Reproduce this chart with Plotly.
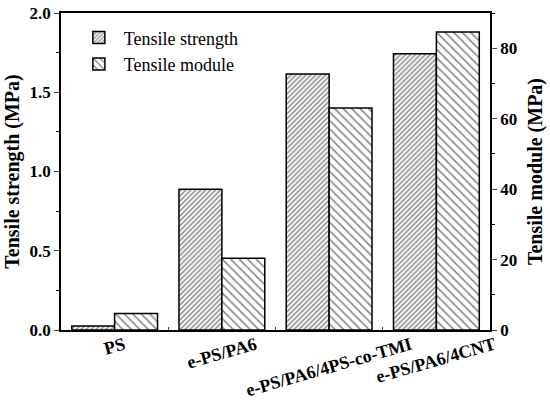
import plotly.graph_objects as go

categories = ["PS", "e-PS/PA6", "e-PS/PA6/4PS-co-TMI", "e-PS/PA6/4CNT"]
tensile_strength = [0.025, 0.888, 1.615, 1.743]
tensile_module = [4.7, 20.4, 63.0, 84.6]

FONT = "Liberation Serif"

fig = go.Figure()
fig.add_trace(go.Bar(
    x=categories, y=tensile_strength, name="Tensile strength",
    offsetgroup="1", yaxis="y",
    marker=dict(color="white", line=dict(color="black", width=1.5),
                pattern=dict(shape="/", fgcolor="black", bgcolor="white", size=3.5, solidity=0.4)),
))
fig.add_trace(go.Bar(
    x=categories, y=tensile_module, name="Tensile module",
    offsetgroup="2", yaxis="y2",
    marker=dict(color="white", line=dict(color="black", width=1.5),
                pattern=dict(shape="\\", fgcolor="black", bgcolor="white", size=6, solidity=0.25)),
))

# category labels, centred under each group and rotated
for c in categories:
    fig.add_annotation(
        x=c, xref="x", y=0, yref="paper", yanchor="top", xanchor="center",
        text=c, showarrow=False, textangle=-16, yshift=-1,
        font=dict(family=FONT, size=18, color="black", weight="bold"),
    )

fig.update_layout(
    width=550, height=404,
    margin=dict(l=61, r=60, t=13, b=74, autoexpand=False),
    paper_bgcolor="white", plot_bgcolor="white",
    barmode="group", bargap=0.2, bargroupgap=0,
    font=dict(family=FONT, color="black"),
    showlegend=True,
    legend=dict(x=0.03, y=0.98, xanchor="left", yanchor="top",
                font=dict(family=FONT, size=18, color="black"),
                bgcolor="rgba(0,0,0,0)", tracegroupgap=0, itemwidth=40),
    xaxis=dict(
        range=[-0.5, 3.5], showline=True, linecolor="black", linewidth=1.5,
        mirror=True, ticks="inside", ticklen=3, tickson="boundaries",
        showticklabels=False, automargin=False, showgrid=False,
    ),
    yaxis=dict(
        range=[0, 2.0], dtick=0.5, tickformat=".1f", showline=True, linecolor="black",
        linewidth=1.5, ticks="outside", ticklen=5, showgrid=False, zeroline=False,
        automargin=False, ticklabeloverflow="allow",
        minor=dict(dtick=0.25, ticks="outside", ticklen=3, tickcolor="black"),
        tickfont=dict(family=FONT, size=17, color="black", weight="bold"),
        title=dict(text="Tensile strength (MPa)", font=dict(family=FONT, size=20, color="black", weight="bold"), standoff=5),
    ),
    yaxis2=dict(
        range=[0, 90], dtick=20, overlaying="y", side="right", showline=True,
        linecolor="black", linewidth=1.5, ticks="outside", ticklen=5, showgrid=False,
        zeroline=False, automargin=False, ticklabeloverflow="allow",
        minor=dict(dtick=10, ticks="outside", ticklen=3, tickcolor="black"),
        tickfont=dict(family=FONT, size=17, color="black", weight="bold"),
        title=dict(text="Tensile module (MPa)", font=dict(family=FONT, size=20, color="black", weight="bold"), standoff=12),
    ),
)

# remove the default 8px page margin so the 550x404 figure fills the window
fig.write_html("out.html", config={"displayModeBar": False},
               post_script="document.body.style.margin='0';")
